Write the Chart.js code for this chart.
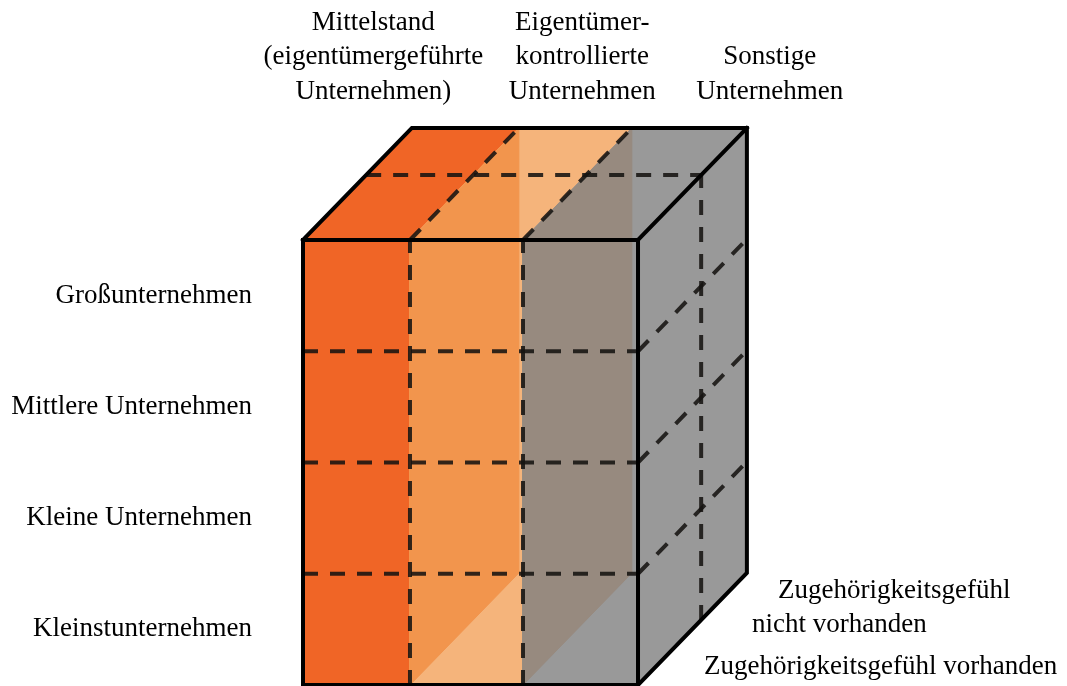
<!DOCTYPE html>
<html>
<head>
<meta charset="utf-8">
<script src="https://cdn.jsdelivr.net/npm/chart.js@4.4.1/dist/chart.umd.min.js"></script>
<style>
  html, body { margin: 0; padding: 0; background: #fff; }
  canvas { display: block; }
</style>
</head>
<body>
<canvas id="cube" width="1067" height="686"></canvas>
<script>
// Data ---------------------
// columns of the cube (left to right)
const ownershipTypes = [
    ['Mittelstand', '(eigentümergeführte', 'Unternehmen)'],
    ['Eigentümer-', 'kontrollierte', 'Unternehmen'],
    ['Sonstige', 'Unternehmen']
];
// rows of the cube (top to bottom)
const sizeClasses = ['Großunternehmen', 'Mittlere Unternehmen', 'Kleine Unternehmen', 'Kleinstunternehmen'];
// depth layers (front to back)
const belongingLayers = [
    ['Zugehörigkeitsgefühl vorhanden'],
    ['Zugehörigkeitsgefühl', 'nicht vorhanden']
];

// Layout / style ------------
const colEdges = [0, 0.958, 1.97, 3];      // column boundaries, in cell units (drawn slightly uneven)
const depthDir = { x: 0.975, y: 1.007 };   // oblique projection of one depth unit
const frontLayerShare = 0.58;             // share of depth taken by the front layer
const columnColors = ['#F06526', '#F5B47B', '#999999'];
const dividerColors = ['#F2954D', '#978A7F'];   // see-through inner planes between columns
const headerX = [0.63, 2.5, 4.18];
const headerBottomY = 5.335;
const rowLabelX = -0.457;
const layerLabelPos = [
    [{ x: 3.591, y: 0.162 }],
    [{ x: 4.254, y: 0.849 }, { x: 4.021, y: 0.544 }]
];
const lineGap = 34.5;
const labelFont = '27px "Liberation Serif", "Times New Roman", serif';

const nCols = ownershipTypes.length;
const nRows = sizeClasses.length;

// column edge index c, row r (from bottom), depth d -> chart value space
function pt(c, r, d) {
    return { x: colEdges[c] + d * depthDir.x, y: r + d * depthDir.y };
}

let datasets = [];

function addPolygon(points, color) {
    datasets.push({
        data: points.concat([points[0]]),
        showLine: true,
        fill: 'shape',
        backgroundColor: color,
        borderColor: color,
        borderWidth: 1,
        pointRadius: 0,
        tension: 0
    });
}

function addLine(points, dashed) {
    datasets.push({
        data: points,
        showLine: true,
        fill: false,
        borderColor: dashed ? 'rgba(22, 19, 17, 0.88)' : '#000',
        borderWidth: dashed ? 4 : 4,
        borderDash: dashed ? [15, 12] : [],
        borderCapStyle: dashed ? 'butt' : 'square',
        borderJoinStyle: 'miter',
        pointRadius: 0,
        tension: 0
    });
}

// base faces of each column slab
for (let c = 0; c < nCols; c++) {
    addPolygon([pt(c, 0, 0), pt(c + 1, 0, 0), pt(c + 1, nRows, 0), pt(c, nRows, 0)], columnColors[c]);
    addPolygon([pt(c, nRows, 0), pt(c + 1, nRows, 0), pt(c + 1, nRows, 1), pt(c, nRows, 1)], columnColors[c]);
}
addPolygon([pt(nCols, 0, 0), pt(nCols, 0, 1), pt(nCols, nRows, 1), pt(nCols, nRows, 0)], columnColors[nCols - 1]);

// inner planes between columns
for (let c = 1; c < nCols; c++) {
    addPolygon([pt(c, nRows, 0), pt(c, 0, 0), pt(c, 0, 1), pt(c, nRows, 1)], dividerColors[c - 1]);
}

// dashed grid
for (let c = 1; c < nCols; c++) {
    addLine([pt(c, 0, 0), pt(c, nRows, 0)], true);
    addLine([pt(c, nRows, 0), pt(c, nRows, 1)], true);
}
for (let r = 1; r < nRows; r++) {
    addLine([pt(0, r, 0), pt(nCols, r, 0)], true);
    addLine([pt(nCols, r, 0), pt(nCols, r, 1)], true);
}
addLine([pt(0, nRows, frontLayerShare), pt(nCols, nRows, frontLayerShare)], true);
addLine([pt(nCols, 0, frontLayerShare), pt(nCols, nRows, frontLayerShare)], true);

// solid outline
addLine([pt(0, 0, 0), pt(nCols, 0, 0), pt(nCols, nRows, 0), pt(0, nRows, 0), pt(0, 0, 0)], false);
addLine([pt(0, nRows, 0), pt(0, nRows, 1), pt(nCols, nRows, 1), pt(nCols, 0, 1), pt(nCols, 0, 0)], false);
addLine([pt(nCols, nRows, 0), pt(nCols, nRows, 1)], false);

// painter's order: first pushed is drawn first
datasets.forEach(function(ds, i) { ds.order = datasets.length - i; ds.clip = false; });

const labelPlugin = {
    id: 'cubeLabels',
    afterDatasetsDraw(chart) {
        const ctx = chart.ctx;
        const xs = chart.scales.x;
        const ys = chart.scales.y;
        ctx.save();
        ctx.font = labelFont;
        ctx.fillStyle = '#000';
        ctx.textBaseline = 'middle';

        // column headers, bottom aligned
        ctx.textAlign = 'center';
        ownershipTypes.forEach(function(lines, i) {
            const px = xs.getPixelForValue(headerX[i]);
            const bottom = ys.getPixelForValue(headerBottomY);
            lines.forEach(function(t, k) {
                ctx.fillText(t, px, bottom - (lines.length - 1 - k) * lineGap);
            });
        });

        // row labels
        ctx.textAlign = 'right';
        sizeClasses.forEach(function(t, r) {
            ctx.fillText(t, xs.getPixelForValue(rowLabelX), ys.getPixelForValue(nRows - r - 0.5));
        });

        // depth layer labels
        ctx.textAlign = 'left';
        belongingLayers.forEach(function(lines, i) {
            lines.forEach(function(t, k) {
                const p = layerLabelPos[i][k];
                ctx.fillText(t, xs.getPixelForValue(p.x), ys.getPixelForValue(p.y));
            });
        });
        ctx.restore();
    }
};

const unitX = 111.67, unitY = 111.25;
new Chart(document.getElementById('cube').getContext('2d'), {
    type: 'scatter',
    data: { datasets: datasets },
    options: {
        responsive: false,
        animation: false,
        events: [],
        layout: { padding: 0 },
        plugins: {
            legend: { display: false },
            tooltip: { enabled: false }
        },
        scales: {
            x: { type: 'linear', display: false, min: -303 / unitX, max: (1067 - 303) / unitX },
            y: { type: 'linear', display: false, min: -1 / unitY, max: 685 / unitY }
        }
    },
    plugins: [labelPlugin]
});
</script>
</body>
</html>
